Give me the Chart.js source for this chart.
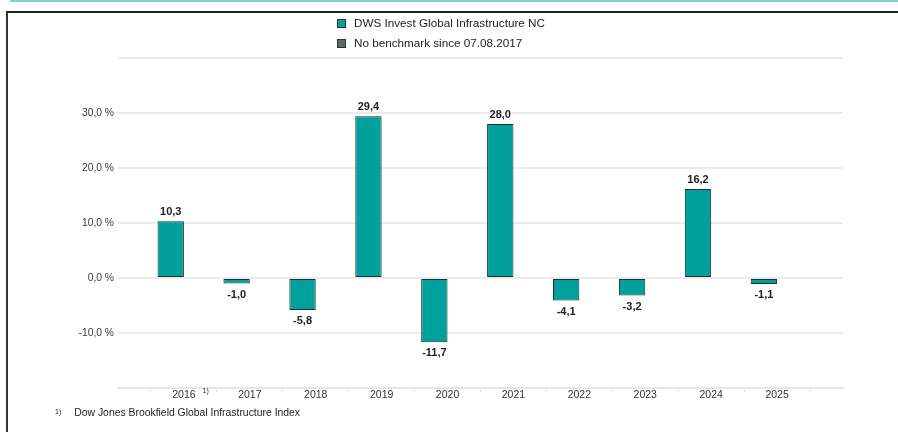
<!DOCTYPE html>
<html>
<head>
<meta charset="utf-8">
<script src="https://cdn.jsdelivr.net/npm/chart.js@4.4.1/dist/chart.umd.min.js"></script>
<style>
  html, body { margin:0; padding:0; background:#fff; }
  body { width:898px; height:432px; position:relative; overflow:hidden; font-family:"Liberation Sans", Arial, sans-serif; }
  #topline { position:absolute; left:10px; top:0; width:888px; height:2px; background:#7fd1d1; }
  #frame { position:absolute; left:6px; top:11px; width:900px; height:430px; border-left:2px solid #333; border-top:2px solid #222; }
  #wrap { position:absolute; left:0; top:0; width:898px; height:432px; }
  #legend { position:absolute; left:337px; top:15px; font-size:11.7px; color:#222; }
  #legend div { height:20px; line-height:16px; white-space:nowrap; }
  #legend span.box { display:inline-block; width:7px; height:7px; border:1px solid #333; margin-right:8px; vertical-align:-1px; }
  #note { position:absolute; left:55px; top:407px; font-size:10.4px; color:#222; white-space:nowrap; }
  #note sup { font-size:7px; margin-right:13px; vertical-align:2px; }
</style>
</head>
<body>
<div id="topline"></div>
<div id="frame"></div>
<div id="wrap"><canvas id="perf-chart"></canvas></div>
<div id="legend"></div>
<div id="note"><sup>1)</sup>Dow Jones Brookfield Global Infrastructure Index</div>
<script>
var years=["2016","2017","2018","2019","2020","2021","2022","2023","2024","2025"];
var fundValues=[10.3,-1.0,-5.8,29.4,-11.7,28.0,-4.1,-3.2,16.2,-1.1];
var benchValues=[null,null,null,null,null,null,null,null,null,null];
var seriesNames=["DWS Invest Global Infrastructure NC","No benchmark since 07.08.2017"];
var seriesColors=["#00a09c","#5d6a72"];
var yTickValues=[-10,0,10,20,30];
var yTickLabels=["-10,0 %","0,0 %","10,0 %","20,0 %","30,0 %"];
var footnoteYear="2016";
var footnoteMark="1)";

// empty slot at each end so the plot has half a category of room
var labels=[""].concat(years,[""]);
var fundData=[null].concat(fundValues,[null]);
var benchData=[null].concat(benchValues,[null]);

function fmt(v){ return v.toFixed(1).replace(".",","); }

var valueLabels={
  id:"valueLabels",
  afterDatasetsDraw:function(chart){
    var ctx=chart.ctx;
    var meta=chart.getDatasetMeta(0);
    ctx.save();
    ctx.font="bold 11px 'Liberation Sans', Arial, sans-serif";
    ctx.fillStyle="#222";
    ctx.textAlign="center";
    ctx.textBaseline="middle";
    meta.data.forEach(function(bar,i){
      var v=fundData[i];
      if(v===null) return;
      var y=v>=0 ? bar.y-10 : bar.y+10;
      ctx.fillText(fmt(v),bar.x,y+1);
    });
    // footnote marker next to the first year label
    var xs=chart.scales.x;
    var idx=labels.indexOf(footnoteYear);
    var px=xs.getPixelForValue(idx);
    ctx.font="10.5px 'Liberation Sans', Arial, sans-serif";
    var w=ctx.measureText(footnoteYear).width;
    ctx.font="7px 'Liberation Sans', Arial, sans-serif";
    ctx.textAlign="left";
    ctx.fillStyle="#333";
    ctx.fillText(footnoteMark,px+w/2+7,chart.chartArea.bottom+3);
    ctx.restore();
  }
};

var myChart=new Chart(document.getElementById("perf-chart"),{
  type:"bar",
  data:{
    labels:labels,
    datasets:[{
      label:seriesNames[0],
      data:fundData,
      backgroundColor:seriesColors[0],
      borderColor:"#1c2e2e",
      borderWidth:1,
      borderSkipped:false,
      categoryPercentage:0.8,
      barPercentage:1.0
    },{
      label:seriesNames[1],
      data:benchData,
      backgroundColor:seriesColors[1],
      borderColor:"#333",
      borderWidth:1,
      borderSkipped:false,
      categoryPercentage:0.8,
      barPercentage:1.0
    }]
  },
  plugins:[valueLabels],
  options:{
    responsive:true,
    maintainAspectRatio:false,
    animation:false,
    layout:{padding:{top:58,right:55,bottom:0,left:0}},
    plugins:{legend:{display:false},tooltip:{enabled:false}},
    scales:{
      x:{
        offset:false,
        grid:{display:true,drawOnChartArea:false,offset:true,color:"#e3e3e3",tickLength:4},
        border:{display:true,color:"#e6e6e6",width:2},
        ticks:{
          autoSkip:false,maxRotation:0,padding:-3,color:"#333",
          font:{family:"'Liberation Sans', Arial, sans-serif",size:10.5}
        },
        afterFit:function(s){ s.height=44; }
      },
      y:{
        min:-20,max:40,
        grid:{color:"#ebebeb",lineWidth:2,drawTicks:false},
        border:{display:false},
        ticks:{
          stepSize:10,padding:4,color:"#3a3a3a",
          font:{family:"'Liberation Sans', Arial, sans-serif",size:10.3},
          callback:function(v){
            var k=yTickValues.indexOf(v);
            return k<0 ? "" : yTickLabels[k];
          }
        },
        afterFit:function(s){ s.width=118; }
      }
    }
  }
});

var lg=document.getElementById("legend");
myChart.data.datasets.forEach(function(ds){
  var row=document.createElement("div");
  row.innerHTML='<span class="box" style="background:'+ds.backgroundColor+'"></span>'+ds.label;
  lg.appendChild(row);
});
</script>
</body>
</html>
